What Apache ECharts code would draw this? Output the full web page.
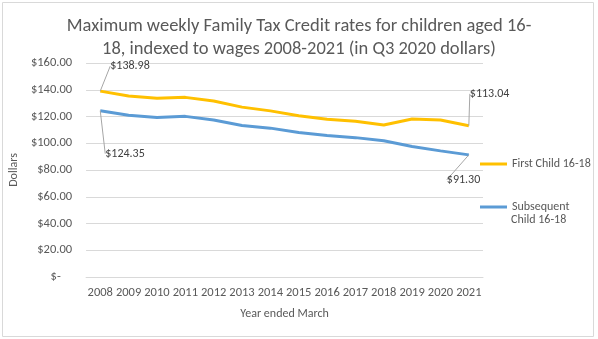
<!DOCTYPE html>
<html><head><meta charset="utf-8">
<script src="https://cdn.jsdelivr.net/npm/echarts@6/dist/echarts.min.js"></script>
<style>html,body{margin:0;padding:0;background:#fff}#c{width:598px;height:339px}</style>
</head><body><div id="c"></div>
<script>
var years = ['2008','2009','2010','2011','2012','2013','2014','2015','2016','2017','2018','2019','2020','2021'];
var firstChild = [138.98,135.3,133.6,134.3,131.6,127.0,124.2,120.6,118.0,116.5,113.6,118.1,117.4,113.04];
var subsequentChild = [124.35,121.0,119.3,120.1,117.4,113.3,111.3,108.0,105.8,104.2,101.9,97.6,94.3,91.30];
var yTicks = [0,20,40,60,80,100,120,140,160];

var font = "Carlito, 'Open Sans', sans-serif";
function fmt(v){ return v === 0 ? '$-    ' : '$' + v.toFixed(2); }
function labelFor(arr, offsets){
  return arr.map(function(v,i){
    var o = offsets[i];
    if (!o) return v;
    return {value: v, label: {show: true, position: 'right', formatter: function(p){ return '$' + p.value.toFixed(2); }}};
  });
}
var firstOffsets = {0:[5,-25], 13:[-4,-32]};
var subOffsets = {0:[0,43], 13:[-27,25]};

var chart = echarts.init(document.getElementById('c'));
chart.setOption({
  animation: false,
  textStyle: {fontFamily: font},
  title: {
    text: 'Maximum weekly Family Tax Credit rates for children aged 16-\n18, indexed to wages 2008-2021 (in Q3 2020 dollars)',
    left: 'center', top: 10,
    textStyle: {fontFamily: font, fontSize: 18.5, fontWeight: 'normal', color: '#595959', lineHeight: 23}
  },
  graphic: [
    {type: 'rect', shape: {x: 2.5, y: 2.5, width: 591, height: 334}, style: {fill: 'none', stroke: '#d9d9d9', lineWidth: 1}},
    {type: 'text', left: 511, top: 214, style: {text: 'Child 16-18', fontFamily: font, fontSize: 12, fill: '#595959'}}
  ],
  grid: {left: 84, right: 115, top: 63, bottom: 62},
  legend: [
    {orient: 'vertical', left: 480, top: 158, itemWidth: 27, itemHeight: 3, icon: 'rect',
     data: ['First Child 16-18'], textStyle: {fontFamily: font, fontSize: 12, color: '#595959'}, itemGap: 0, padding: 0},
    {orient: 'vertical', left: 480, top: 201, itemWidth: 27, itemHeight: 3, icon: 'rect',
     data: ['Subsequent Child 16-18'], formatter: function(){ return 'Subsequent'; },
     textStyle: {fontFamily: font, fontSize: 12, color: '#595959'}, itemGap: 0, padding: 0}
  ],
  xAxis: {
    type: 'category', data: years, boundaryGap: true,
    name: 'Year ended March', nameLocation: 'middle', nameGap: 31,
    nameTextStyle: {fontFamily: font, fontSize: 12, color: '#595959'},
    axisLine: {lineStyle: {color: '#d9d9d9'}}, axisTick: {show: false},
    axisLabel: {fontFamily: font, fontSize: 12.5, color: '#595959', margin: 9, interval: 0}
  },
  yAxis: {
    type: 'value', min: 0, max: 160, interval: 20,
    name: 'Dollars', nameLocation: 'middle', nameGap: 55, nameRotate: 90,
    nameTextStyle: {fontFamily: font, fontSize: 12, color: '#595959'},
    axisLine: {show: false}, axisTick: {show: false},
    splitLine: {lineStyle: {color: '#d9d9d9'}},
    axisLabel: {fontFamily: font, fontSize: 12.5, color: '#595959', margin: 14, formatter: fmt}
  },
  series: [
    {name: 'First Child 16-18', type: 'line', data: labelFor(firstChild, firstOffsets), showSymbol: true, symbol: 'circle', symbolSize: 0,
     lineStyle: {width: 3, color: '#FFC000'}, itemStyle: {color: '#FFC000'},
     label: {fontFamily: font, fontSize: 12, color: '#404040'},
     labelLine: {show: true, lineStyle: {color: '#a6a6a6', width: 1}},
     labelLayout: function(p){ var o = firstOffsets[p.dataIndex]; return o ? {dx: o[0], dy: o[1]} : {}; }},
    {name: 'Subsequent Child 16-18', type: 'line', data: labelFor(subsequentChild, subOffsets), showSymbol: true, symbol: 'circle', symbolSize: 0,
     lineStyle: {width: 3, color: '#5B9BD5'}, itemStyle: {color: '#5B9BD5'},
     label: {fontFamily: font, fontSize: 12, color: '#404040'},
     labelLine: {show: true, lineStyle: {color: '#a6a6a6', width: 1}},
     labelLayout: function(p){ var o = subOffsets[p.dataIndex]; return o ? {dx: o[0], dy: o[1]} : {}; }}
  ]
});
</script></body></html>
